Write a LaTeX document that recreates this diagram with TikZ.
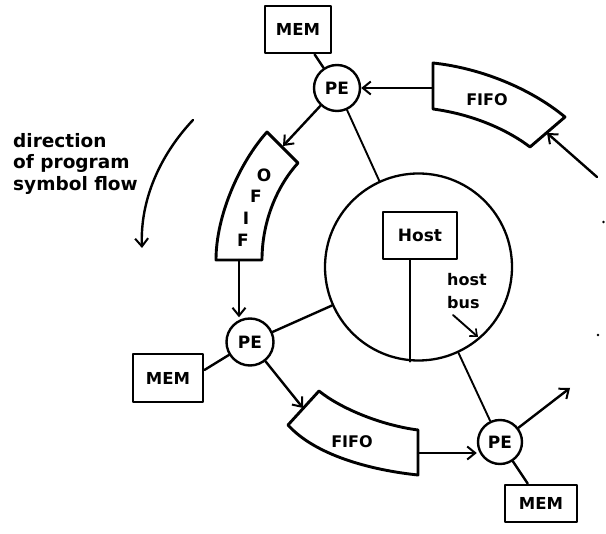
\documentclass[tikz,border=0pt]{standalone}
\usepackage{fontspec}
\setmainfont{DejaVu Sans}
\usetikzlibrary{arrows.meta}
\begin{document}
\begin{tikzpicture}[x=1pt,y=-1pt,line join=round,line cap=round,
  membox/.style={draw,line width=2.8pt,inner sep=0pt,font=\fontsize{16.5}{16.5}\selectfont\bfseries},
  pe/.style={circle,draw,line width=2.4pt,minimum size=46pt,inner sep=0pt,font=\fontsize{17}{17}\selectfont\bfseries},
  fifo/.style={draw,line width=2.9pt},
  lbl/.style={inner sep=0pt,font=\fontsize{16}{16}\selectfont\bfseries},
  conn/.style={line width=2.4pt},
  thinl/.style={line width=1.9pt},
  arr/.style={conn,-{Straight Barb[length=8pt,width=13pt,line width=2pt]}},
  arrthin/.style={thinl,-{Straight Barb[length=6pt,width=10pt,line width=1.6pt]}}]
\useasboundingbox (0,0) rectangle (606,534);

% nodes
\node[membox,minimum width=66pt,minimum height=47pt] (mem1) at (298,29.5) {MEM};
\node[pe] (pe1) at (337,88) {PE};
\node[membox,minimum width=70pt,minimum height=48pt] (mem2) at (168,378) {MEM};
\node[pe,minimum size=47pt] (pe2) at (250,342) {PE};
\node[membox,minimum width=72pt,minimum height=37pt] (mem3) at (541,503.5) {MEM};
\node[pe,minimum size=44pt] (pe3) at (500,442) {PE};
\node[circle,draw,line width=2.3pt,minimum size=187pt,inner sep=0pt] (big) at (418.5,267) {};
\node[membox,minimum width=74pt,minimum height=47pt,font=\fontsize{17}{17}\selectfont\bfseries] (host) at (420,235.5) {Host};

% FIFOs
\draw[fifo] (433,63) -- (433,109) .. controls (470,114) and (505,128) .. (530,147) -- (565,117) .. controls (530,88) and (480,68) .. (433,63) -- cycle;
\draw[fifo] (216,260) .. controls (216,215) and (240,162) .. (267,132) -- (298,163) .. controls (278,185) and (262,220) .. (262,260) -- cycle;
\draw[fifo] (288,425) -- (319,391) .. controls (340,408) and (380,425) .. (418,430) -- (418,475) .. controls (370,470) and (315,455) .. (288,425) -- cycle;

\node[lbl] (f1t) at (487,100) {FIFO};
\node[lbl] (f3t) at (352,442) {FIFO};
\node[lbl,font=\fontsize{17}{17}\selectfont\bfseries] (lf1) at (243,240) {F};
\node[lbl,font=\fontsize{17}{17}\selectfont\bfseries] (lf2) at (246,218) {I};
\node[lbl,font=\fontsize{17}{17}\selectfont\bfseries] (lf3) at (256,196) {F};
\node[lbl,font=\fontsize{17}{17}\selectfont\bfseries] (lf4) at (264,175) {O};

% texts
\node[anchor=north west,align=left,inner sep=0pt,font=\fontsize{18.5}{21.5}\selectfont\bfseries] (dir) at (13,133) {direction\\of program\\symbol flow};
\node[align=left,inner sep=0pt,font=\fontsize{16}{23}\selectfont\bfseries] (hb) at (467,291) {host\\bus};

% coordinates
\coordinate (f1in) at (433,88);
\coordinate (f1rim) at (547,133);
\coordinate (feed) at (597,177);
\coordinate (f2in) at (283,146);
\coordinate (f2out) at (239,260);
\coordinate (f3in) at (303,408);
\coordinate (f3out) at (418,453);
\coordinate (out3) at (570,388);
\coordinate (busA) at (453,315);
\coordinate (busB) at (478,337);
\coordinate (dirA) at (193,120);
\coordinate (dirB) at (142,248);

% plain connectors
\draw[conn] (mem1) -- (pe1);
\draw[thinl] (pe1) -- (big);
\draw[conn] ([yshift=8pt]mem2.east) -- (pe2);
\draw[conn] (pe2) -- (big);
\draw[thinl] (pe3) -- (big);
\draw[conn] (pe3) -- (mem3);
\draw[thinl] ([xshift=-10pt]host.south) -- ([xshift=-10pt]host.south |- big.south);

% arrows
\draw[arr] (f1in) -- (pe1);
\draw[arr] (feed) -- (f1rim);
\draw[arr] (pe1) -- (f2in);
\draw[arr] (f2out) -- (f2out |- pe2.north);
\draw[arr] (pe2) -- (f3in);
\draw[arr] (f3out) -- (f3out -| pe3.west);
\draw[arr] (pe3) -- (out3);
\draw[arrthin] (busA) -- (busB);
\draw[arr] (dirA) .. controls (160,155) and (140,200) .. (dirB);

% specks
\fill (603.5,222) circle (1.3);
\fill (598,335) circle (1.3);
\end{tikzpicture}
\end{document}
